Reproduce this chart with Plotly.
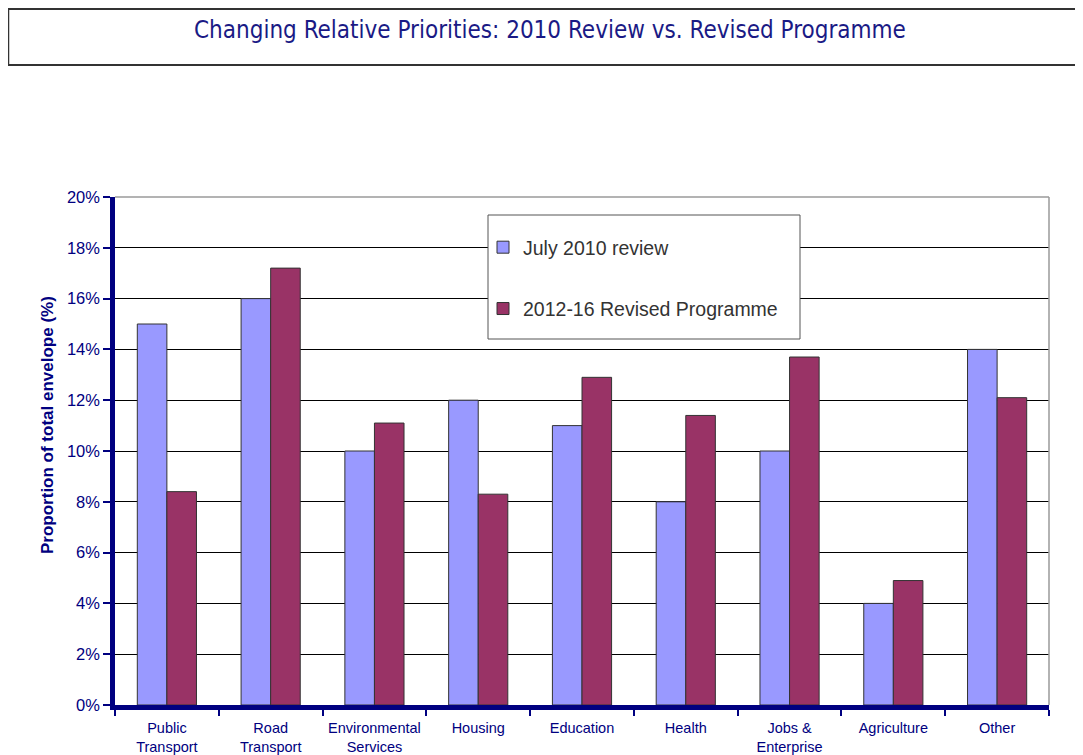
import plotly.graph_objects as go

categories = ["Public<br>Transport", "Road<br>Transport", "Environmental<br>Services",
              "Housing", "Education", "Health", "Jobs &<br>Enterprise",
              "Agriculture", "Other"]
july_2010 = [15.0, 16.0, 10.0, 12.0, 11.0, 8.0, 10.0, 4.0, 14.0]
revised_2012_16 = [8.4, 17.2, 11.1, 8.3, 12.9, 11.4, 13.7, 4.9, 12.1]
y_ticks = [0, 2, 4, 6, 8, 10, 12, 14, 16, 18, 20]
y_tick_text = [f"{v}%" for v in y_ticks]

# page body adds an 8px offset, so the figure is a bit smaller than the window
W, H = 1075, 747
# plot area in screen pixels
PL, PR, PT, PB = 115, 1049, 197, 705
NAVY = "#000080"


def px_x(x):
    return (x - PL) / (PR - PL)


def px_y(y):
    return (PB - y) / (PB - PT)


fig = go.Figure()
fig.add_trace(go.Bar(x=categories, y=july_2010, name="July 2010 review",
                     legendgroup="a",
                     marker=dict(color="#9999FF", line=dict(color="#333333", width=1))))
fig.add_trace(go.Bar(x=categories, y=revised_2012_16, name="2012-16 Revised Programme",
                     legendgroup="b",
                     marker=dict(color="#993366", line=dict(color="#333333", width=1))))

shapes = [
    # title frame (open on the right)
    dict(type="line", xref="paper", yref="paper", x0=px_x(8), x1=px_x(1083),
         y0=px_y(9), y1=px_y(9), line=dict(color="#333333", width=2)),
    dict(type="line", xref="paper", yref="paper", x0=px_x(8), x1=px_x(1083),
         y0=px_y(65), y1=px_y(65), line=dict(color="#333333", width=2)),
    dict(type="line", xref="paper", yref="paper", x0=px_x(8.5), x1=px_x(8.5),
         y0=px_y(9), y1=px_y(65), line=dict(color="#333333", width=1.5)),
    # grey plot border top / right
    dict(type="line", xref="paper", yref="paper", x0=0, x1=1, y0=1, y1=1,
         line=dict(color="#9a9a9a", width=1.5), layer="above"),
    dict(type="line", xref="paper", yref="paper", x0=1, x1=1, y0=0, y1=1,
         line=dict(color="#9a9a9a", width=1.5), layer="above"),
    # legend box
    dict(type="rect", xref="paper", yref="paper", x0=px_x(488), x1=px_x(800),
         y0=px_y(339), y1=px_y(215), fillcolor="white",
         line=dict(color="#555555", width=1), layer="above"),
]

fig.update_layout(
    width=W, height=H,
    margin=dict(l=PL - 8, r=W - (PR - 8), t=PT - 8, b=H - (PB - 8)),
    paper_bgcolor="white", plot_bgcolor="white",
    barmode="group", bargap=0.43, bargroupgap=0,
    font=dict(family="Liberation Sans, Arial", color=NAVY),
    shapes=shapes,
    showlegend=True,
    legend=dict(x=px_x(483), y=px_y(228), xanchor="left", yanchor="top",
                bgcolor="rgba(0,0,0,0)", borderwidth=0, tracegroupgap=33,
                font=dict(family="Liberation Sans, Arial", size=19.5, color="#333333")),
    annotations=[
        dict(text="Changing Relative Priorities: 2010 Review vs. Revised Programme",
             xref="paper", yref="paper", x=px_x(550), y=px_y(30),
             xanchor="center", yanchor="middle", showarrow=False,
             font=dict(family="DejaVu Sans Condensed", size=24, color="#1a1a85")),
        dict(text="<b>Proportion of total envelope (%)</b>",
             xref="paper", yref="paper", x=px_x(47), y=px_y(425),
             xanchor="center", yanchor="middle", showarrow=False, textangle=-90,
             font=dict(family="Liberation Sans, Arial", size=17, color=NAVY)),
    ],
)

fig.update_yaxes(
    range=[0, 20], tickmode="array", tickvals=y_ticks, ticktext=y_tick_text,
    showgrid=True, gridcolor="black", gridwidth=1,
    showline=True, linecolor=NAVY, linewidth=4.5,
    ticks="outside", ticklen=7, tickwidth=2, tickcolor=NAVY,
    tickfont=dict(size=16.5, color=NAVY), zeroline=False, automargin=False,
)
fig.update_xaxes(
    showline=True, linecolor=NAVY, linewidth=4.5,
    ticks="outside", tickson="boundaries", ticklen=6, tickwidth=2, tickcolor=NAVY,
    ticklabelstandoff=6,
    tickfont=dict(size=14.5, color=NAVY), automargin=False,
)

fig.write_html("out.html")
